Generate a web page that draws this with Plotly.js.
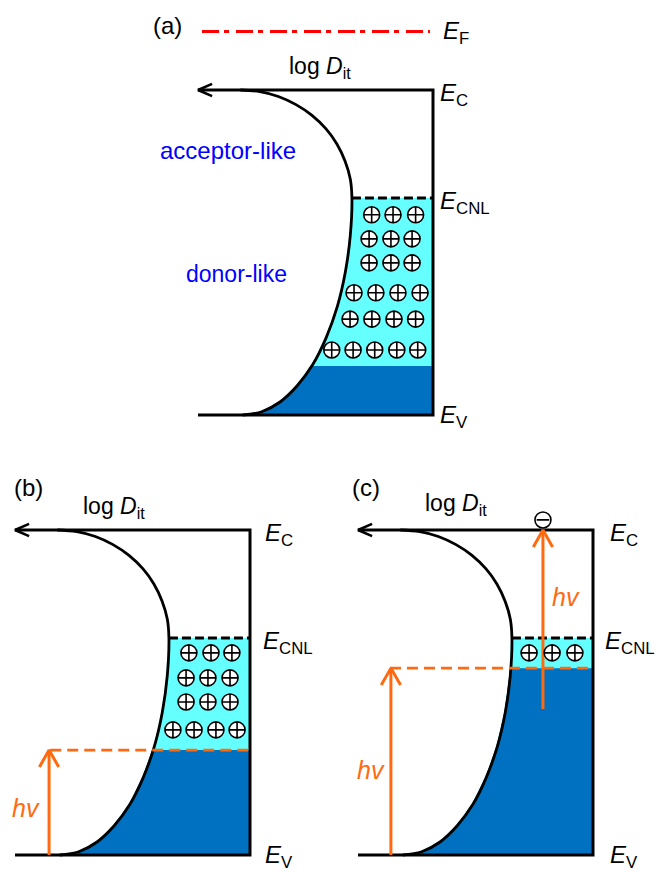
<!DOCTYPE html>
<html>
<head>
<meta charset="utf-8">
<script src="https://cdn.plot.ly/plotly-3.0.1.min.js"></script>
<style>html,body{margin:0;padding:0;background:#fff}#chart{width:659px;height:872px}</style>
</head>
<body>
<div id="chart"></div>
<script>
// ---------------- data ----------------
// Interface-state density curve: energy (E_V = 0, E_C = 1) vs log D_it (0 at right axis, grows to the left)
const dosE    = [1.000,0.995,0.980,0.955,0.922,0.881,0.834,0.781,0.726,0.668,0.552,0.440,0.334,0.239,0.156,0.090,0.040,0.010,0.000];
const dosLogD = [0.820,0.737,0.658,0.583,0.515,0.456,0.409,0.374,0.352,0.345,0.352,0.373,0.407,0.454,0.511,0.578,0.651,0.729,0.810];
const panelLabels = ['(a)','(b)','(c)'];
const levelEC  = 1.0;
const levelECNL = 0.668;
const levelEV  = 0.0;
const levelEF  = 1.18;                 // E_F line drawn above panel (a)
const filledTop = [0.151, 0.323, 0.575]; // top of electron-filled (dark blue) states, panels a,b,c
// positive (ionised donor) charges
const plusA_x = [0.261,0.170,0.074, 0.272,0.179,0.089, 0.272,0.179,0.089, 0.336,0.243,0.149,0.055, 0.353,0.260,0.166,0.074, 0.431,0.340,0.248,0.154,0.065];
const plusA_y = [0.616,0.616,0.616, 0.542,0.542,0.542, 0.468,0.468,0.468, 0.376,0.376,0.376,0.376, 0.295,0.295,0.295,0.295, 0.200,0.200,0.200,0.200,0.200];
const plusB_x = [0.260,0.166,0.077, 0.272,0.179,0.085, 0.272,0.179,0.085, 0.328,0.238,0.145,0.055];
const plusB_y = [0.622,0.622,0.622, 0.545,0.545,0.545, 0.471,0.471,0.471, 0.385,0.385,0.385,0.385];
const plusC_x = [0.272,0.174,0.077];
const plusC_y = [0.622,0.622,0.622];
// electron excited to E_C in panel (c)
const minusC_x = [0.213];
const minusC_y = [1.031];
// photon (hv) arrows: panel index, x, start energy, end energy
const hvPanel = [1, 2, 2];
const hvX     = [0.855, 0.860, 0.213];
const hvFrom  = [0.000, 0.000, 0.449];
const hvTo    = [0.323, 0.575, 1.000];
// orange quasi-Fermi dashed lines: panel index, left x, level
const qfPanel = [1, 2];
const qfX     = [0.850, 0.864];
const qfE     = [0.323, 0.575];

// ---------------- layout geometry ----------------
const W = 659, H = 872, SX = 235, SY = 325;
const XR = [1.05, -0.15];
const geo = [
  {rx:433, by:415, yr:[-0.04, 1.25]},
  {rx:250, by:855, yr:[-0.04, 1.16]},
  {rx:593, by:855, yr:[-0.04, 1.16]}
];
const FONT = 'Liberation Sans, Arial, Helvetica, sans-serif';
const CYAN = '#66FFFF', DBLUE = '#0070C0', ORANGE = '#FF6A10';

const traces = [];
const annotations = [];
const layout = {
  width: W, height: H, margin:{l:0,r:0,t:0,b:0},
  paper_bgcolor:'#ffffff', plot_bgcolor:'rgba(0,0,0,0)',
  showlegend:false, font:{family:FONT, color:'#000'},
  annotations: annotations
};

function ax(i){ return i===0 ? ['x','y'] : ['x'+(i+1),'y'+(i+1)]; }

geo.forEach((g,i)=>{
  const xd = [(g.rx - SX*XR[0])/W, (g.rx - SX*XR[1])/W];
  const yd = [1 - (g.by - SY*g.yr[0])/H, 1 - (g.by - SY*g.yr[1])/H];
  const k = i===0 ? '' : String(i+1);
  layout['xaxis'+k] = {domain:xd, range:XR, visible:false, fixedrange:true, anchor:'y'+k};
  layout['yaxis'+k] = {domain:yd, range:g.yr, visible:false, fixedrange:true, anchor:'x'+k};
});

function add(i, t){ const a = ax(i); t.xaxis=a[0]; t.yaxis=a[1]; t.hoverinfo='skip'; traces.push(t); }

function filledPoly(level){
  const xs=[], ys=[];
  const start = dosE.indexOf(levelECNL);
  for (let k=start; k<dosE.length; k++){
    if (dosE[k] <= level + 1e-9){
      if (xs.length===0 && dosE[k] < level && k>start){
        const t = (level - dosE[k]) / (dosE[k-1] - dosE[k]);
        xs.push(dosLogD[k] + t*(dosLogD[k-1]-dosLogD[k]) + 0.004); ys.push(level);
      }
      xs.push(dosLogD[k]+0.004); ys.push(dosE[k]);
    }
  }
  xs.push(0, 0); ys.push(levelEV, level);
  return {x:xs, y:ys};
}

function chevron(i, x, y, dx, dy, color, width){
  add(i, {type:'scatter', mode:'lines', x:[x+dx[0], x, x+dx[1]], y:[y+dy[0], y, y+dy[1]],
    line:{color:color, width:width}});
}

function lab(i, x, y, text, o){
  const a = ax(i);
  annotations.push(Object.assign({xref:a[0], yref:a[1], x:x, y:y, text:text, showarrow:false,
    xanchor:'center', yanchor:'middle', font:{family:FONT, size:23, color:'#000'}}, o||{}));
}

for (let i=0;i<3;i++){
  // cyan: states below E_CNL (empty donor states)
  const cy = filledPoly(levelECNL);
  add(i, {type:'scatter', mode:'lines', x:cy.x, y:cy.y, fill:'toself', fillcolor:CYAN, line:{width:0}});
  // dark blue: filled states
  const fb = filledPoly(filledTop[i]);
  add(i, {type:'scatter', mode:'lines', x:fb.x, y:fb.y, fill:'toself', fillcolor:DBLUE, line:{width:0}});
  // D_it curve
  add(i, {type:'scatter', mode:'lines', x:dosLogD, y:dosE, line:{color:'#000', width:2.8, shape:'spline', smoothing:1}});
  // frame: E_C line with arrow, right axis, E_V line
  add(i, {type:'scatter', mode:'lines', x:[1.0, 0, 0, 1.0], y:[levelEC, levelEC, levelEV, levelEV], line:{color:'#000', width:3}});
  chevron(i, 1.0, levelEC, [-0.06, -0.06], [0.019, -0.019], '#000', 2.6);
  // E_CNL dashed
  add(i, {type:'scatter', mode:'lines', x:[dosLogD[dosE.indexOf(levelECNL)], 0], y:[levelECNL, levelECNL],
    line:{color:'#000', width:3, dash:'9px,4px'}});
}

// E_F dash-dot line (panel a)
add(0, {type:'scatter', mode:'lines', x:[0.983, 0.013], y:[levelEF, levelEF], line:{color:'#FF0000', width:3, dash:'17px,5px,5px,7px'}});

// orange dashed lines
qfPanel.forEach((p,j)=>{
  add(p, {type:'scatter', mode:'lines', x:[qfX[j], 0], y:[qfE[j], qfE[j]], line:{color:ORANGE, width:2.8, dash:'11px,6px'}});
});
// photon arrows
hvPanel.forEach((p,j)=>{
  add(p, {type:'scatter', mode:'lines', x:[hvX[j], hvX[j]], y:[hvFrom[j], hvTo[j]], line:{color:ORANGE, width:3}});
  chevron(p, hvX[j], hvTo[j], [0.041, -0.041], [-0.052, -0.052], ORANGE, 3);
});

// charges
const plusMarker = {symbol:'circle-cross', size:16, color:'#ffffff', line:{color:'#000', width:1.6}};
add(0, {type:'scatter', mode:'markers', x:plusA_x, y:plusA_y, marker:plusMarker});
add(1, {type:'scatter', mode:'markers', x:plusB_x, y:plusB_y, marker:plusMarker});
add(2, {type:'scatter', mode:'markers', x:plusC_x, y:plusC_y, marker:plusMarker});
add(2, {type:'scatter', mode:'markers', x:minusC_x, y:minusC_y, marker:{symbol:'circle', size:16, color:'#ffffff', line:{color:'#000', width:1.6}}});
add(2, {type:'scatter', mode:'markers', x:minusC_x, y:minusC_y, marker:{symbol:'line-ew', size:9, color:'#000', line:{color:'#000', width:1.8}}});

// ---------------- text ----------------
const panelPx = [[167,26],[28,487],[366,487]];   // panel letters placed on the page
panelPx.forEach((p,i)=>{
  annotations.push({xref:'paper', yref:'paper', x:p[0]/W, y:1-p[1]/H, text:panelLabels[i], showarrow:false,
    xanchor:'center', yanchor:'middle', font:{family:FONT, size:24, color:'#000'}});
});
const logPos = [[0.481,1.068],[0.577,1.068],[0.583,1.077]];
const ecX = [-0.02,-0.055,-0.064], cnlX = [-0.02,-0.045,-0.043];
for (let i=0;i<3;i++){
  lab(i, logPos[i][0], logPos[i][1], 'log <i>D</i><sub>it</sub>', {font:{family:FONT, size:23, color:'#000'}});
  lab(i, ecX[i], 0.985, '<i>E</i><sub>C</sub>', {xanchor:'left', font:{family:FONT, size:24, color:'#000'}});
  lab(i, cnlX[i], 0.655, '<i>E</i><sub>CNL</sub>', {xanchor:'left', font:{family:FONT, size:24, color:'#000'}});
  lab(i, ecX[i], -0.004, '<i>E</i><sub>V</sub>', {xanchor:'left', font:{family:FONT, size:24, color:'#000'}});
}
lab(0, -0.034, 1.178, '<i>E</i><sub>F</sub>', {xanchor:'left', font:{family:FONT, size:24, color:'#000'}});
lab(0, 0.874, 0.815, 'acceptor-like', {font:{family:FONT, size:24, color:'#0000FF'}});
lab(0, 0.837, 0.434, 'donor-like', {font:{family:FONT, size:23, color:'#0000FF'}});
lab(1, 0.953, 0.145, '<i>hv</i>', {font:{family:FONT, size:25, color:ORANGE}});
lab(2, 0.113, 0.794, '<i>hv</i>', {font:{family:FONT, size:25, color:ORANGE}});
lab(2, 0.943, 0.262, '<i>hv</i>', {font:{family:FONT, size:25, color:ORANGE}});

Plotly.newPlot('chart', traces, layout, {staticPlot:true, displayModeBar:false});
</script>
</body>
</html>
